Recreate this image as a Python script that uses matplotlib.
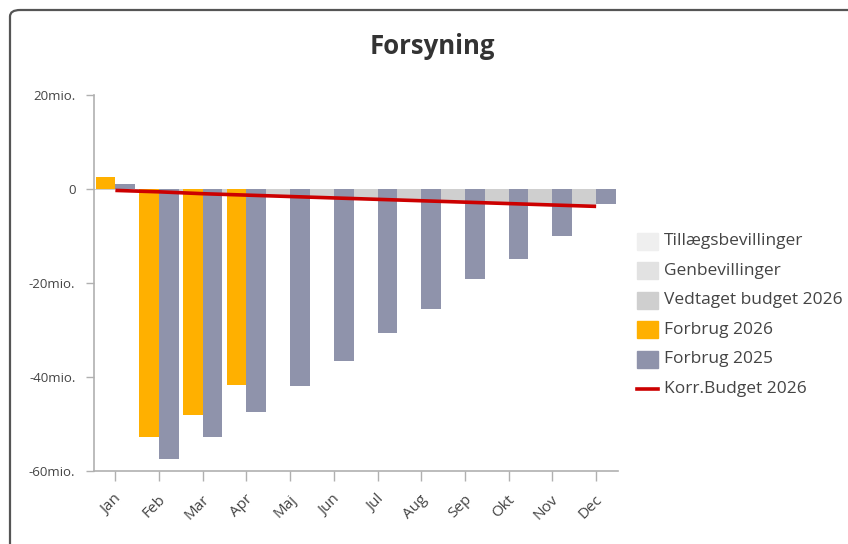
import matplotlib
matplotlib.use("Agg")
import matplotlib.pyplot as plt
import matplotlib.transforms as mtransforms
from matplotlib.patches import FancyBboxPatch, Rectangle
from matplotlib.lines import Line2D
import numpy as np

plt.rcParams["font.family"] = ["Open Sans", "DejaVu Sans"]

# ── Data (mio. kr.) ──────────────────────────────────────
months = ["Jan", "Feb", "Mar", "Apr", "Maj", "Jun",
          "Jul", "Aug", "Sep", "Okt", "Nov", "Dec"]
tillaeg = [0, 0, 0, 0, 0, 0, 0, 0, 0, 0, 0, 0]
genbev = [0, 0, 0, 0, 0, 0, 0, 0, 0, 0, 0, 0]
vedtaget = [-0.3, -0.6, -1.0, -1.3, -1.6, -1.9, -2.2, -2.5, -2.8, -3.1, -3.4, -3.7]
forbrug_2026 = [2.6, -52.7, -48.0, -41.8]
forbrug_2025 = [1.0, -57.4, -52.7, -47.5, -42.0, -36.7,
                -30.7, -25.6, -19.2, -14.9, -10.0, -3.2]
korr_budget = [-0.3, -0.6, -1.0, -1.3, -1.6, -1.9, -2.2, -2.5, -2.8, -3.1, -3.4, -3.7]

y_ticks = [-60, -40, -20, 0, 20]
y_labels = ["-60mio.", "-40mio.", "-20mio.", "0", "20mio."]

C_TILL = "#efefef"
C_GEN = "#e2e2e2"
C_VED = "#cfcfcf"
C_F26 = "#ffb000"
C_F25 = "#8f93ab"
C_RED = "#cc0000"
AXC = "#b0b0b0"
TXT = "#444444"

W, H = 848, 544
fig = plt.figure(figsize=(W / 100, H / 100), dpi=100)

# rounded frame around the chart (runs off the right and bottom edges)
frame = FancyBboxPatch((10 / W, -60 / H), 900 / W, (H - 10 + 60) / H,
                       boxstyle="round,pad=0,rounding_size=0.012",
                       transform=fig.transFigure, fill=False,
                       edgecolor="#555555", linewidth=1.6)
fig.patches.append(frame)

ax = fig.add_axes([93.5 / W, (H - 471) / H, (618 - 93.5) / W, (471 - 95) / H])

x = np.arange(len(months))
bw = 0.45

# budget stack (behind)
ved = np.array(vedtaget)
gen = np.array(genbev)
til = np.array(tillaeg)
ax.bar(x, ved, width=-0.55, align="edge", color=C_VED, zorder=1)
ax.bar(x, gen, width=-0.55, align="edge", bottom=ved, color=C_GEN, zorder=1)
ax.bar(x, til, width=-0.55, align="edge", bottom=ved + gen, color=C_TILL, zorder=1)

ax.bar(x[:len(forbrug_2026)], forbrug_2026, width=-bw, align="edge",
       color=C_F26, zorder=2)
ax.bar(x, forbrug_2025, width=bw, align="edge", color=C_F25, zorder=2)
ax.plot(x, korr_budget, color=C_RED, linewidth=2.6, zorder=3,
        solid_capstyle="butt")

ax.set_xlim(-0.5, 11.5)
ax.set_ylim(-60, 20)
ax.set_yticks(y_ticks)
ax.set_yticklabels(y_labels, fontsize=9.5, color=TXT)
ax.set_xticks(x)
ax.set_xticklabels(months, fontsize=11, color=TXT, rotation=45,
                   ha="right", va="center", rotation_mode="anchor")
ax.tick_params(axis="y", length=6, width=1, color=AXC, pad=7)
ax.tick_params(axis="x", length=7, width=1, color=AXC, pad=12)
shift = mtransforms.ScaledTranslation(4 / 100, 0, fig.dpi_scale_trans)
for lab in ax.get_xticklabels():
    lab.set_transform(lab.get_transform() + shift)

for s in ["top", "right"]:
    ax.spines[s].set_visible(False)
for s in ["left", "bottom"]:
    ax.spines[s].set_color(AXC)
    ax.spines[s].set_linewidth(1.2)

fig.text(432 / W, 1 - 47 / H, "Forsyning", ha="center", va="center",
         fontsize=18.5, fontweight="bold", color="#333333")

# legend
leg_items = [("Tillægsbevillinger", C_TILL, "box"),
             ("Genbevillinger", C_GEN, "box"),
             ("Vedtaget budget 2026", C_VED, "box"),
             ("Forbrug 2026", C_F26, "box"),
             ("Forbrug 2025", C_F25, "box"),
             ("Korr.Budget 2026", C_RED, "line")]
y0 = 241
for i, (lab, col, kind) in enumerate(leg_items):
    yc = y0 + i * 29.6
    if kind == "box":
        fig.patches.append(Rectangle((637 / W, 1 - (yc + 8.5) / H), 21 / W, 17 / H,
                                     transform=fig.transFigure, color=col))
    else:
        fig.lines.append(Line2D([637 / W, 658 / W], [1 - yc / H, 1 - yc / H],
                                transform=fig.transFigure, color=col, linewidth=2.6))
    fig.text(664 / W, 1 - yc / H, lab, ha="left", va="center",
             fontsize=12.5, color=TXT)

fig.savefig("out.png", dpi=100)
